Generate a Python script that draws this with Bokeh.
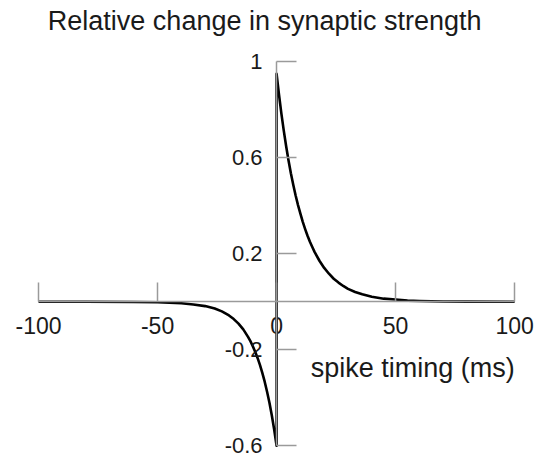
from bokeh.plotting import figure
from bokeh.models import Range1d, FixedTicker, Label
from bokeh.embed import file_html
from bokeh.resources import INLINE

# STDP curve readings (spike timing in ms, relative change in strength)
t_neg = [-100, -80, -60, -50, -45, -40, -35, -30, -26, -23, -20, -18, -16, -14, -12, -11, -10,
         -9, -8, -7, -6, -5, -4, -3, -2, -1, 0]
w_neg = [0.0, 0.0, -0.001, -0.002, -0.004, -0.006, -0.011, -0.018, -0.028, -0.040, -0.057, -0.072,
         -0.091, -0.115, -0.146, -0.164, -0.185, -0.208, -0.234, -0.263, -0.296, -0.333, -0.375,
         -0.421, -0.474, -0.533, -0.6]
t_pos = [0, 1, 2, 3, 4, 5, 6, 7, 8, 9, 10, 11, 12, 13, 14, 15, 16, 18, 20, 22, 24, 26, 28, 30,
         33, 36, 40, 45, 50, 55, 60, 70, 80, 100]
w_pos = [0.95, 0.864, 0.785, 0.714, 0.649, 0.590, 0.536, 0.488, 0.443, 0.403, 0.367, 0.333, 0.303,
         0.275, 0.250, 0.228, 0.207, 0.171, 0.141, 0.117, 0.096, 0.080, 0.066, 0.054, 0.041, 0.031,
         0.021, 0.013, 0.0097, 0.005, 0.003, 0.001, 0.0005, 0.0]

x_ticks = [-100, -50, 0, 50, 100]
x_tick_labels = {-100: "-100", -50: "-50", 0: "0", 50: "50", 100: "100"}
y_ticks = [-0.6, -0.2, 0.2, 0.6, 1]
y_tick_labels = {-0.6: "-0.6", -0.2: "-0.2", 0.2: "0.2", 0.6: "0.6", 1: "1"}

title_text = "Relative change in synaptic strength"
x_label_text = "spike timing (ms)"

FONT = "Liberation Sans"
AXIS_COLOR = "#9a9a9a"
TEXT_COLOR = "#1a1a1a"

p = figure(width=536, height=457, output_backend="svg", toolbar_location=None,
           x_range=Range1d(-116.0, 109.2), y_range=Range1d(-0.6488, 1.2554),
           min_border=0, title=None)
p.outline_line_color = None
p.grid.visible = False
p.background_fill_color = "white"
p.border_fill_color = "white"

# x axis through y=0
xa = p.xaxis[0]
xa.fixed_location = 0
xa.bounds = (-100, 100)
xa.ticker = FixedTicker(ticks=x_ticks)
xa.major_label_overrides = x_tick_labels
xa.minor_tick_line_color = None
xa.major_tick_in = 19
xa.major_tick_out = 0
xa.axis_line_color = AXIS_COLOR
xa.axis_line_width = 1.5
xa.major_tick_line_color = AXIS_COLOR
xa.major_tick_line_width = 1.5
xa.major_label_text_font = FONT
xa.major_label_text_font_size = "23px"
xa.major_label_text_color = TEXT_COLOR
xa.major_label_standoff = 15

# y axis through x=0
ya = p.yaxis[0]
ya.fixed_location = 0
ya.bounds = (-0.6, 1)
ya.ticker = FixedTicker(ticks=y_ticks)
ya.major_label_overrides = y_tick_labels
ya.minor_tick_line_color = None
ya.major_tick_in = 20
ya.major_tick_out = 0
ya.axis_line_color = AXIS_COLOR
ya.axis_line_width = 1.5
ya.major_tick_line_color = AXIS_COLOR
ya.major_tick_line_width = 1.5
ya.major_label_text_font = FONT
ya.major_label_text_font_size = "22px"
ya.major_label_text_color = TEXT_COLOR
ya.major_label_standoff = 14

# curve
p.line(t_neg + t_pos, w_neg + w_pos, line_color="black", line_width=2.6, line_join="round")

p.add_layout(Label(x=-5, y=1.172, text=title_text, text_align="center", text_baseline="middle",
                   text_font=FONT, text_font_size="27px", text_color=TEXT_COLOR))
p.add_layout(Label(x=14.3, y=-0.274, text=x_label_text, text_align="left", text_baseline="alphabetic",
                   text_font=FONT, text_font_size="27px", text_color=TEXT_COLOR))

open("out.html", "w").write(file_html(p, INLINE))
